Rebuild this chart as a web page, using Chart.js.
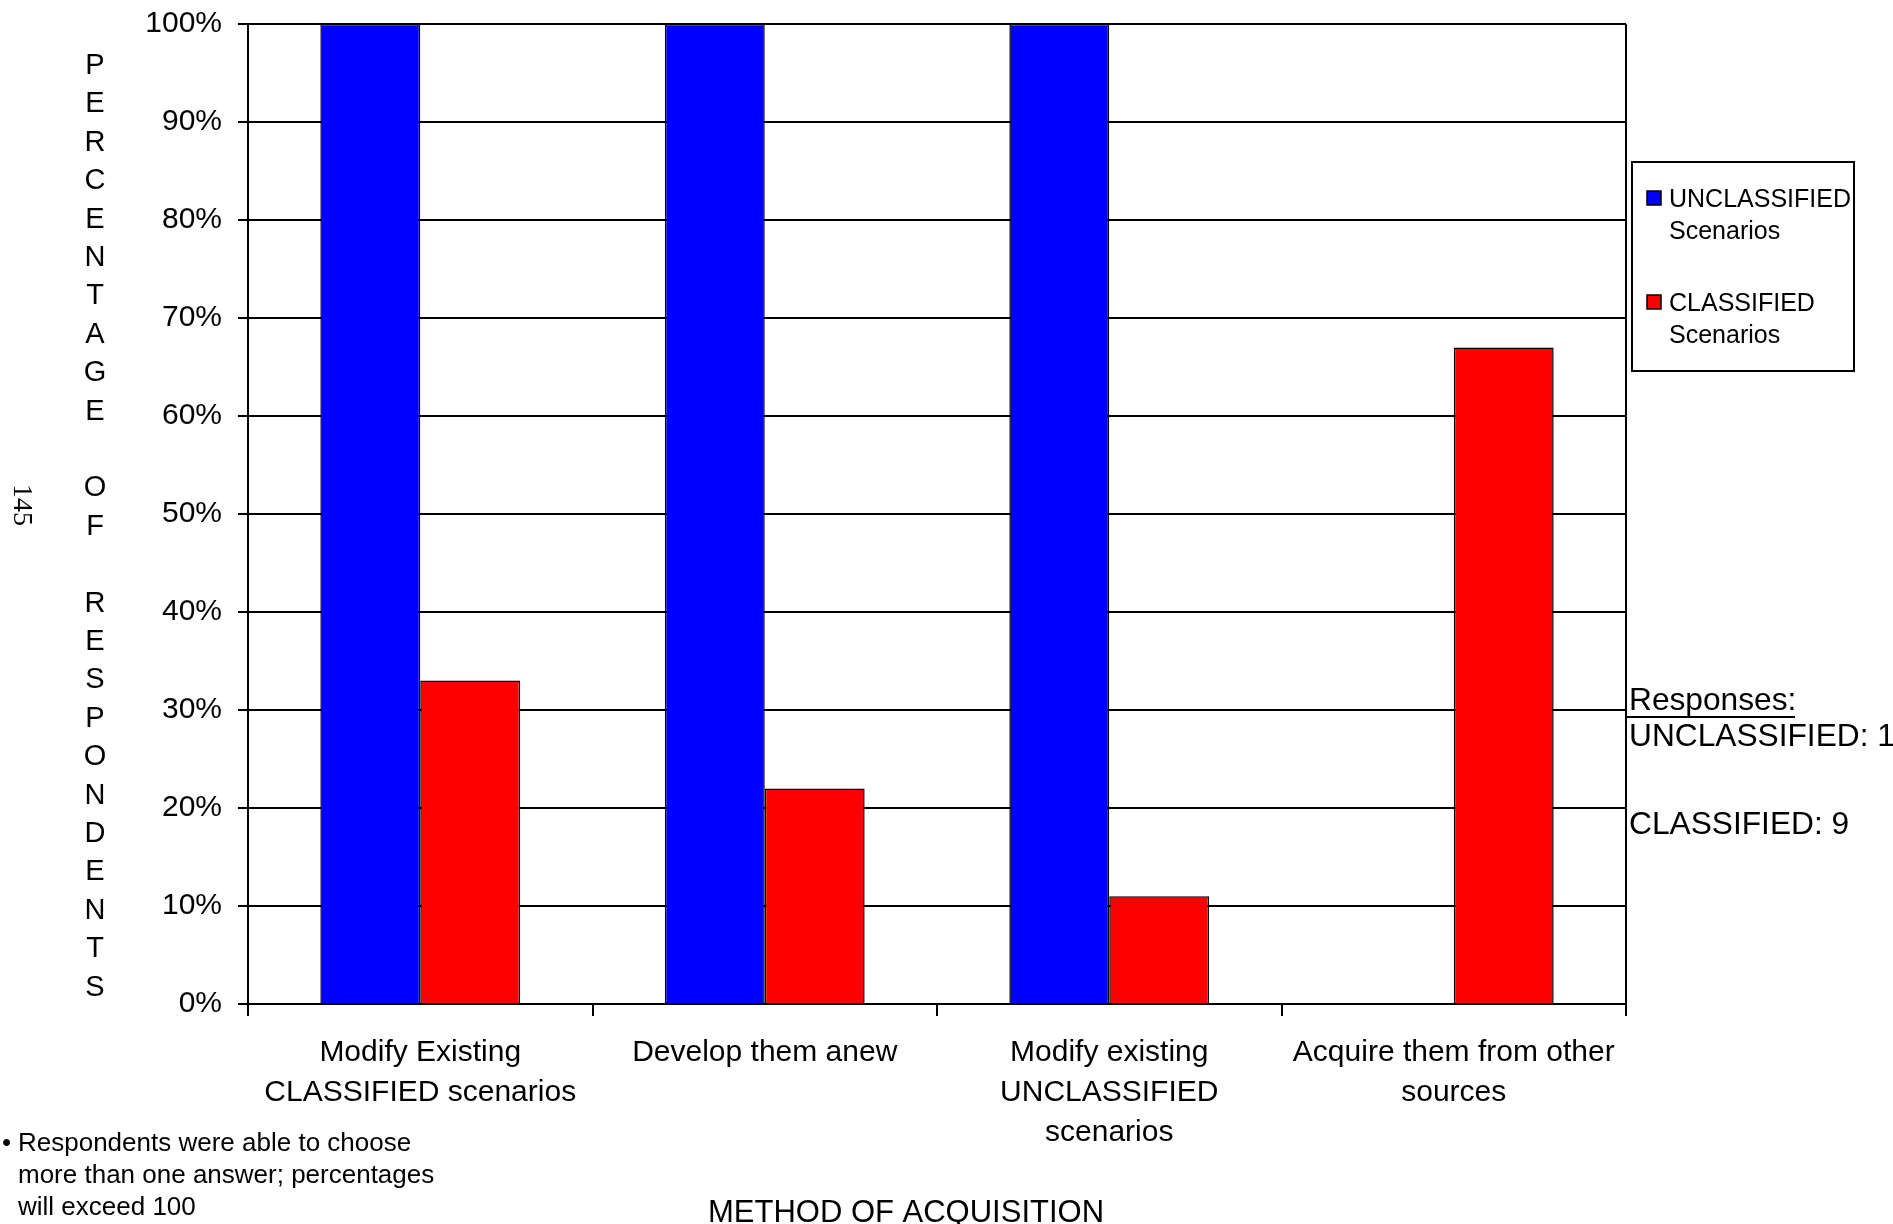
<!DOCTYPE html>
<html>
<head>
<meta charset="utf-8">
<script src="https://cdn.jsdelivr.net/npm/chart.js@4/dist/chart.umd.min.js"></script>
<style>
  html, body { margin: 0; padding: 0; background: #fff; }
  #wrap { width: 1893px; height: 1224px; position: relative; }
</style>
</head>
<body>
<div id="wrap"><canvas id="c" width="1893" height="1224"></canvas></div>
<script>
// ---- Data ----
const categories = [
  ["Modify Existing", "CLASSIFIED scenarios"],
  ["Develop them anew"],
  ["Modify existing", "UNCLASSIFIED", "scenarios"],
  ["Acquire them from other", "sources"]
];
const seriesNames = ["UNCLASSIFIED Scenarios", "CLASSIFIED Scenarios"];
const legendLines = [["UNCLASSIFIED", "Scenarios"], ["CLASSIFIED", "Scenarios"]];
const unclassifiedValues = [100, 100, 100, 0];
const classifiedValues = [33, 22, 11, 67];
const seriesColors = ["#0000FF", "#FF0000"];
const yAxisTitle = "PERCENTAGE OF RESPONDENTS";
const xAxisTitle = "METHOD OF ACQUISITION";
const responsesLines = ["Responses:", "UNCLASSIFIED: 1", "CLASSIFIED: 9"];
const footnoteLines = ["Respondents were able to choose", "more than one answer; percentages", "will exceed 100"];
const pageNumber = "145";

const FONT = '"Liberation Sans", Arial, Helvetica, sans-serif';

const decorPlugin = {
  id: 'decor',
  afterDraw(chart) {
    const ctx = chart.ctx;
    const ca = chart.chartArea;
    ctx.save();
    // right frame line
    ctx.strokeStyle = '#000';
    ctx.lineWidth = 2;
    ctx.beginPath();
    ctx.moveTo(ca.right, ca.top);
    ctx.lineTo(ca.right, ca.bottom);
    ctx.stroke();

    ctx.fillStyle = '#000';
    // vertical stacked Y title
    ctx.font = '29px ' + FONT;
    ctx.textAlign = 'center';
    ctx.textBaseline = 'middle';
    const letters = yAxisTitle.split('');
    letters.forEach((ch, i) => {
      if (ch !== ' ') ctx.fillText(ch, 95, 66 + i * 38.4);
    });

    // page number, rotated
    ctx.save();
    ctx.translate(21, 505);
    ctx.rotate(Math.PI / 2);
    ctx.font = '28px "Liberation Serif", "Times New Roman", serif';
    ctx.textAlign = 'center';
    ctx.textBaseline = 'middle';
    ctx.fillText(pageNumber, 0, 0);
    ctx.restore();

    // legend
    ctx.lineWidth = 2;
    ctx.strokeStyle = '#000';
    ctx.strokeRect(1632, 162, 222, 209);
    ctx.font = '25px ' + FONT;
    ctx.textAlign = 'left';
    ctx.textBaseline = 'alphabetic';
    const legendTops = [191, 295];
    chart.data.datasets.forEach((ds, i) => {
      const y = legendTops[i];
      ctx.fillStyle = ds.backgroundColor;
      ctx.fillRect(1647, y, 14, 14);
      ctx.lineWidth = 1.5;
      ctx.strokeRect(1647, y, 14, 14);
      ctx.fillStyle = '#000';
      legendLines[i].forEach((t, j) => {
        ctx.fillText(t, 1669, y + 16 + j * 32);
      });
    });

    // responses note
    ctx.font = '31.7px ' + FONT;
    ctx.fillText(responsesLines[0], 1629, 710);
    ctx.lineWidth = 2;
    ctx.beginPath();
    ctx.moveTo(ca.right, 717);
    ctx.lineTo(1795, 717);
    ctx.stroke();
    ctx.fillText(responsesLines[1], 1629, 746);
    ctx.fillText(responsesLines[2], 1629, 834);

    // footnote
    ctx.font = '26px ' + FONT;
    ctx.fillText('\u2022', 2, 1151);
    footnoteLines.forEach((t, i) => {
      ctx.fillText(t, 18, 1151 + i * 32);
    });

    // x title
    ctx.font = '31px ' + FONT;
    ctx.textAlign = 'center';
    ctx.fillText(xAxisTitle, 906, 1222);
    ctx.restore();
  }
};

new Chart(document.getElementById('c'), {
  type: 'bar',
  data: {
    labels: categories,
    datasets: [
      { label: seriesNames[0], data: unclassifiedValues, backgroundColor: seriesColors[0], borderColor: '#000', borderWidth: 1.5 },
      { label: seriesNames[1], data: classifiedValues, backgroundColor: seriesColors[1], borderColor: '#000', borderWidth: 1.5 }
    ]
  },
  options: {
    responsive: false,
    animation: false,
    devicePixelRatio: 1,
    layout: { padding: { left: 0, right: 267, top: 24, bottom: 0 } },
    datasets: { bar: { categoryPercentage: 0.58, barPercentage: 1.0 } },
    plugins: { legend: { display: false }, tooltip: { enabled: false }, title: { display: false } },
    scales: {
      x: {
        afterFit(scale) { scale.height = 220; scale.paddingLeft = 0; scale.paddingRight = 0; },
        grid: { display: true, drawOnChartArea: false, drawTicks: true, tickLength: 12, color: '#000', lineWidth: 2, offset: true },
        border: { display: true, color: '#000', width: 2 },
        ticks: { color: '#000', font: { family: FONT, size: 30, lineHeight: 1.33 }, padding: 17, maxRotation: 0, autoSkip: false }
      },
      y: {
        min: 0, max: 100,
        afterFit(scale) { scale.width = 248; scale.paddingTop = 0; scale.paddingBottom = 0; },
        grid: { color: '#000', lineWidth: 2, tickLength: 10, drawTicks: true },
        border: { display: true, color: '#000', width: 2 },
        ticks: { stepSize: 10, color: '#000', font: { family: FONT, size: 30 }, padding: 16, callback: v => v + '%' }
      }
    }
  },
  plugins: [decorPlugin]
});
</script>
</body>
</html>
